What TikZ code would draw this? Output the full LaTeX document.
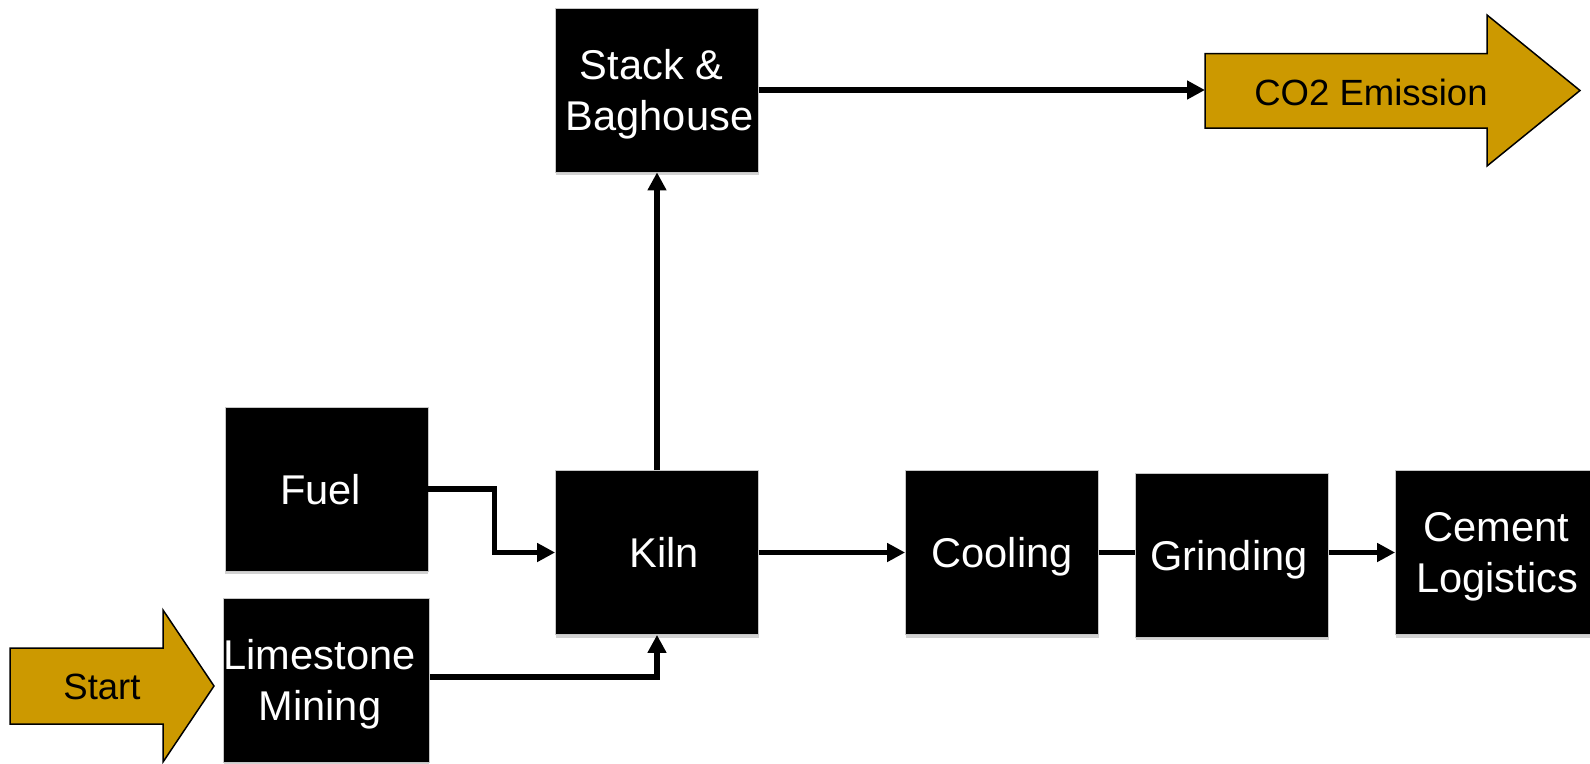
\documentclass[tikz,border=0pt]{standalone}
\usepackage{fontspec}
\setmainfont{Liberation Sans}
\usetikzlibrary{arrows.meta,shadows}
\definecolor{gold}{RGB}{204,153,0}
\begin{document}
\begin{tikzpicture}[x=1pt,y=-1pt,
  box/.style={fill=black, draw=gray!45, line width=0.8pt, text=white,
    minimum width=203pt, minimum height=164pt, inner sep=0pt, align=center,
    text depth=0pt, font=\fontsize{41.6}{50.7}\selectfont,
    drop shadow={shadow xshift=0pt, shadow yshift=-3pt, fill=gray!35, opacity=1}},
  flow/.style={line width=5.5pt, -{Triangle[length=18pt 0 0, width=18pt 0 0]}},
  plain/.style={line width=5.5pt},
  bigarrow/.style={fill=gold, draw=black, line width=1.5pt, line join=miter},
  arrowtext/.style={font=\fontsize{36.5}{42}\selectfont, text=black, inner sep=0pt, text depth=0pt}]
\useasboundingbox (0,0) rectangle (1590,763);
% boxes
\node[box] (stack) at (657,90) {\hbox{Stack \&\kern11pt}\\\hbox{\kern5pt Baghouse}};
\node[box] (fuel) at (326.5,489) {\hbox{Fuel\kern12pt}};
\node[box] (lime) at (326.5,680) {\hbox{Limestone\kern14pt}\\\hbox{Mining\kern13pt}};
\node[box] (kiln) at (657,552.5) {\hbox{\kern14pt Kiln}};
\node[box, minimum width=193pt] (cool) at (1002,552.5) {Cooling};
\node[box, minimum width=193pt] (grind) at (1232,555) {\hbox{Grinding\kern6pt}};
\node[box, minimum width=195pt] (cement) at (1493,552.5) {\hbox{\kern6pt Cement}\\\hbox{\kern8pt Logistics}};
% big arrows
\draw[bigarrow] (10,648) -- (163,648) -- (163,610) -- (214,686) -- (163,762) -- (163,724) -- (10,724) -- cycle;
\node[arrowtext] (start) at (102,687) {Start};
\draw[bigarrow] (1205,53.5) -- (1487,53.5) -- (1487,15) -- (1580,90.5) -- (1487,166) -- (1487,128) -- (1205,128) -- cycle;
\coordinate (co2tail) at (1205,90);
\node[arrowtext] (co2) at (1371,92.5) {CO2 Emission};
% connectors
\draw[flow] (fuel.east) -- ++(66,0) |- (kiln.west);
\draw[flow] ([yshift=3pt]lime.east) -| (kiln.south);
\draw[flow] (kiln.north) -- (stack.south);
\draw[flow] (stack.east) -- (co2tail);
\draw[flow] (kiln.east) -- (cool.west);
\draw[plain] (cool.east) -- (cool.east -| grind.west);
\draw[flow] (cement.west -| grind.east) -- (cement.west);
\end{tikzpicture}
\end{document}
